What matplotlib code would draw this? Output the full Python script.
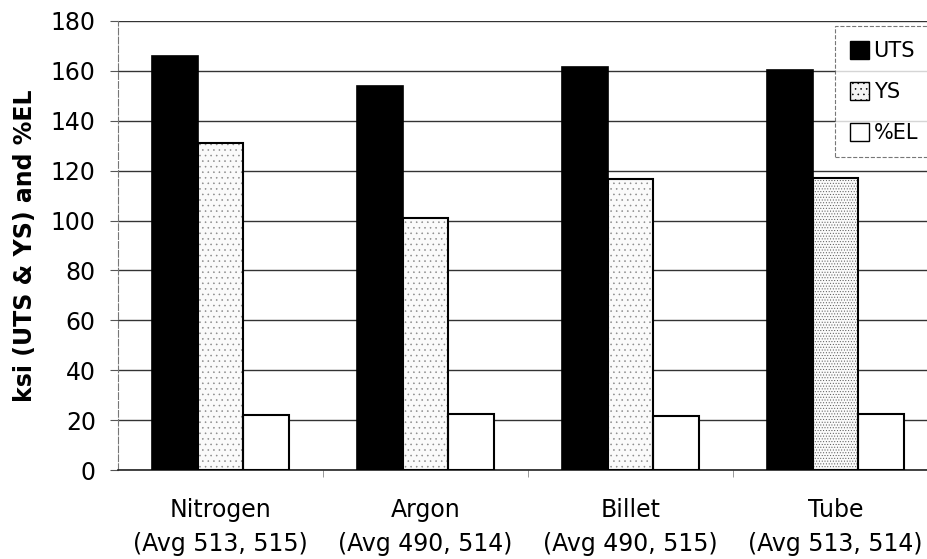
import numpy as np
import matplotlib.pyplot as plt
from matplotlib.patches import Patch

plt.rcParams['font.family'] = ['DejaVu Sans']
plt.rcParams['hatch.linewidth'] = 0.4

# data
groups = ['Nitrogen\n(Avg 513, 515)', 'Argon\n(Avg 490, 514)',
          'Billet\n(Avg 490, 515)', 'Tube\n(Avg 513, 514)']
uts = [166, 154, 161.5, 160.5]
ys = [131, 101, 116.5, 117]
el = [22, 22.3, 21.6, 22.6]
yticks = [0, 20, 40, 60, 80, 100, 120, 140, 160, 180]
ys_hatch = ['...', '...', '...', '......']
ys_dots = ['#8a8a8a', '#8a8a8a', '#8a8a8a', '#555555']

fig = plt.figure(figsize=(9.28, 5.59), dpi=100)
ax = fig.add_axes([118/928, 1 - 470/559, 820/928, 449/559])

x = np.arange(len(groups))
w = 0.224

ax.bar(x - w, uts, w, color='black', edgecolor='black', linewidth=1.2, zorder=3)
# stippled fill first (grey dots), then a black outline on top
for xi, v, h, c in zip(x, ys, ys_hatch, ys_dots):
    ax.bar(xi, v, w, color='#fafafa', edgecolor=c, linewidth=0,
           hatch=h, zorder=3)
ax.bar(x, ys, w, fill=False, edgecolor='black', linewidth=1.5, zorder=4)
ax.bar(x + w, el, w, color='white', edgecolor='black', linewidth=1.5, zorder=3)

ax.set_xlim(-0.5, 3.5)
ax.set_ylim(0, 180)
ax.set_yticks(yticks)
ax.yaxis.grid(True, color='#333333', linewidth=1.0, zorder=0)
ax.set_xticks(x)
ax.set_xticklabels(groups, fontsize=17, linespacing=1.55)
ax.tick_params(axis='x', length=0, pad=20)
ax.set_xticks([0.5, 1.5, 2.5], minor=True)
ax.tick_params(axis='x', which='minor', length=5, color='#888888')
ax.tick_params(axis='y', labelsize=17, length=6, direction='out',
               color='#555555', pad=10)

for s in ['top', 'right']:
    ax.spines[s].set_visible(False)
ax.spines['left'].set_color('#777777')
ax.spines['left'].set_linestyle((0, (6, 2)))
ax.spines['bottom'].set_color('#222222')
ax.spines['bottom'].set_linewidth(1.2)

ax.set_ylabel('ksi (UTS & YS) and %EL', fontsize=17, fontweight='bold', labelpad=10)

handles = [Patch(facecolor='black', edgecolor='black', label='UTS'),
           Patch(facecolor='#f4f4f4', edgecolor='black', hatch='...', label='YS'),
           Patch(facecolor='white', edgecolor='black', label='%EL')]
leg = fig.legend(handles=handles, loc='upper left',
                 bbox_to_anchor=(835/928, 1 - 26/559), fontsize=15,
                 frameon=True, fancybox=False, borderpad=0.7,
                 handlelength=0.95, handleheight=0.95, handletextpad=0.2,
                 labelspacing=1.0, borderaxespad=0)
leg.get_frame().set_edgecolor('#555555')
leg.get_frame().set_linestyle('--')
leg.get_frame().set_linewidth(0.8)

fig.savefig('out.png', dpi=100)
